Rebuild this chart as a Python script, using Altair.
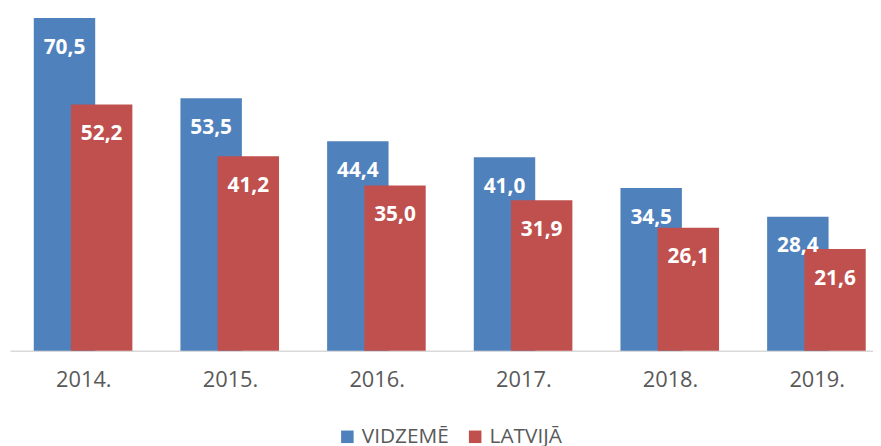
import altair as alt
import pandas as pd
import json

years = ["2014.", "2015.", "2016.", "2017.", "2018.", "2019."]
series = ["VIDZEMĒ", "LATVIJĀ"]
vidzeme = [70.5, 53.5, 44.4, 41.0, 34.5, 28.4]
latvija = [52.2, 41.2, 35.0, 31.9, 26.1, 21.6]
colors = ["#4F81BD", "#C0504D"]

rows = []
for s, vals in zip(series, [vidzeme, latvija]):
    for i, (y, v) in enumerate(zip(years, vals)):
        rows.append({"idx": i, "year": y, "series": s, "value": v,
                     "label": f"{v:.1f}".replace(".", ",")})
df = pd.DataFrame(rows)

FONT = "Open Sans"
W = 871
hi = 5.384

x = alt.X("idx:Q",
          scale=alt.Scale(domain=[-0.5, hi], nice=False, zero=False, padding=0),
          axis=alt.Axis(title=None, labelAngle=0, ticks=False, grid=False,
                        values=list(range(len(years))),
                        labelExpr=json.dumps(years) + "[datum.value]",
                        domainColor="#d9d9d9", domainWidth=1.5,
                        labelColor="#595959", labelFontSize=22, labelFont=FONT,
                        labelPadding=19, labelFlush=False, labelOverlap=False))
y = alt.Y("value:Q", scale=alt.Scale(domain=[0, 72.2]), axis=None)
color = alt.Color("series:N",
                  scale=alt.Scale(domain=series, range=colors),
                  legend=alt.Legend(title=None, orient="none", legendX=330, legendY=420,
                                    direction="horizontal", symbolType="square",
                                    symbolSize=160, symbolStrokeWidth=0,
                                    labelFontSize=21, labelFont=FONT,
                                    labelColor="#595959", labelOffset=4,
                                    columnPadding=16, symbolOpacity=1))

base = alt.Chart(df)
offs = {"VIDZEMĒ": -19, "LATVIJĀ": 18.5}

layers = []
for s in series:
    layers.append(base.transform_filter(alt.datum.series == s)
                  .mark_bar(width=62, xOffset=offs[s])
                  .encode(x=x, y=y, color=color))
for s in series:
    layers.append(base.transform_filter(alt.datum.series == s)
                  .mark_text(dx=offs[s], dy=36, baseline="alphabetic", align="center",
                             color="white", fontWeight="bold", fontSize=21, font=FONT)
                  .encode(x=x, y=y, text="label:N"))

chart = alt.layer(*layers).properties(
    width=W, height=344,
    autosize=alt.AutoSizeParams(type="none"),
    padding={"left": 2, "top": 0, "right": 0, "bottom": 94},
).configure_view(stroke=None)

chart.save("out.html", embed_options={"renderer": "svg", "actions": False})
